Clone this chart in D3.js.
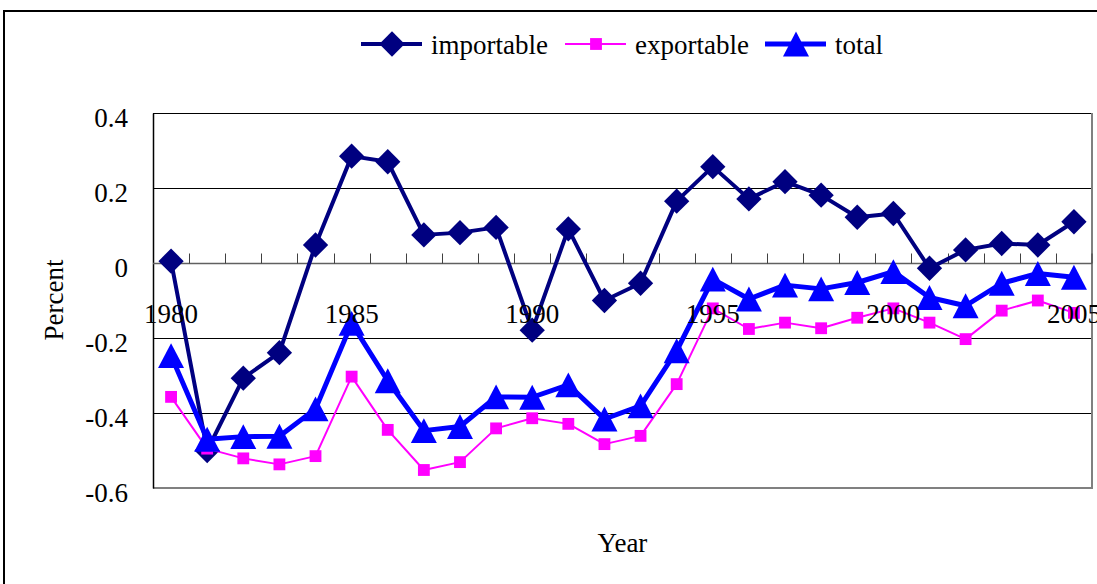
<!DOCTYPE html>
<html>
<head>
<meta charset="utf-8">
<script src="https://cdn.jsdelivr.net/npm/d3@7"></script>
<style>
  html, body { margin: 0; padding: 0; background: #fff; }
  svg { display: block; font-family: "Liberation Serif", "Times New Roman", serif; }
</style>
</head>
<body>
<svg id="chart" width="1097" height="584"></svg>
<script>
// Years on the category axis
const years = d3.range(1980, 2006);
// Years that carry a tick label
const labelYears = [1980, 1985, 1990, 1995, 2000, 2005];
// Value-axis ticks
const yTicks = [0.4, 0.2, 0, -0.2, -0.4, -0.6];

// Series values (percent), 1980-2005
const importable = [0.005, -0.50, -0.307, -0.239, 0.048, 0.285, 0.270, 0.075, 0.081, 0.095,
                    -0.179, 0.091, -0.100, -0.054, 0.165, 0.257, 0.171, 0.217, 0.181, 0.122,
                    0.132, -0.014, 0.035, 0.052, 0.048, 0.110];
const exportable = [-0.357, -0.495, -0.521, -0.537, -0.515, -0.303, -0.445, -0.552, -0.531, -0.441,
                    -0.414, -0.429, -0.483, -0.461, -0.323, -0.121, -0.176, -0.159, -0.174, -0.146,
                    -0.121, -0.159, -0.203, -0.127, -0.100, -0.133];
const total      = [-0.247, -0.470, -0.463, -0.462, -0.389, -0.161, -0.314, -0.447, -0.436, -0.357,
                    -0.358, -0.325, -0.416, -0.381, -0.234, -0.043, -0.096, -0.059, -0.069, -0.052,
                    -0.023, -0.092, -0.114, -0.054, -0.028, -0.038];

const seriesNames = ["importable", "exportable", "total"];

const svg = d3.select("#chart");
const FONT = 27;

const plot = { left: 153, right: 1092, top: 113, bottom: 488 };

const x = d3.scaleBand().domain(years).range([plot.left, plot.right]).padding(0);
const y = d3.scaleLinear().domain([-0.6, 0.4]).range([plot.bottom, plot.top]);
const cx = d => x(d) + x.bandwidth() / 2;

// Triangle whose bounding box is centred on the point
const triangleType = {
  draw(ctx, size) {
    const w = Math.sqrt(size), h = w * 0.96;
    ctx.moveTo(0, -h / 2);
    ctx.lineTo(w / 2, h / 2);
    ctx.lineTo(-w / 2, h / 2);
    ctx.closePath();
  }
};

const styles = {
  importable: { color: "#000080", width: 4, type: d3.symbolSquare, size: 320, rotate: 45 },
  exportable: { color: "#FF00FF", width: 2, type: d3.symbolSquare, size: 140, rotate: 0 },
  total:      { color: "#0000FF", width: 5, type: triangleType, size: 676, rotate: 0 }
};

const data = { importable, exportable, total };

// Outer chart frame
svg.append("rect")
  .attr("x", 4).attr("y", 11)
  .attr("width", 1110).attr("height", 600)
  .attr("fill", "none").attr("stroke", "#000").attr("stroke-width", 2);

// Gridlines
svg.append("g")
  .selectAll("line")
  .data(yTicks.filter(t => t !== 0 && t !== -0.6))
  .join("line")
  .attr("x1", plot.left).attr("x2", plot.right)
  .attr("y1", d => Math.round(y(d)) + 0.5).attr("y2", d => Math.round(y(d)) + 0.5)
  .attr("stroke", "#000").attr("stroke-width", 1);

// Plot area frame (right and bottom)
svg.append("path")
  .attr("d", `M${plot.right},${plot.top}V${plot.bottom}H${plot.left}`)
  .attr("fill", "none").attr("stroke", "#808080").attr("stroke-width", 2);

// Value axis
const yAxis = d3.axisLeft(y).tickValues(yTicks).tickSize(0).tickPadding(25)
  .tickFormat(d => d === 0 ? "0" : String(d));
const gy = svg.append("g").attr("transform", `translate(${plot.left},0)`).call(yAxis);
gy.select(".domain").attr("stroke", "#000").attr("stroke-width", 1.5);
gy.selectAll("text")
  .attr("font-family", "Liberation Serif").attr("font-size", FONT)
  .attr("fill", "#000").attr("dy", null).attr("y", 13);

// Category axis line at zero with upward ticks between categories
const zeroY = Math.round(y(0)) + 0.5;
svg.append("line")
  .attr("x1", plot.left).attr("x2", plot.right)
  .attr("y1", zeroY).attr("y2", zeroY)
  .attr("stroke", "#606060").attr("stroke-width", 1.5);
svg.append("g")
  .selectAll("line")
  .data(years.slice(1).concat([null]))
  .join("line")
  .attr("x1", d => d === null ? plot.right : Math.round(x(d)) + 0.5)
  .attr("x2", d => d === null ? plot.right : Math.round(x(d)) + 0.5)
  .attr("y1", zeroY).attr("y2", zeroY - 10)
  .attr("stroke", "#404040").attr("stroke-width", 1);

// Series lines and markers
seriesNames.forEach(name => {
  const s = styles[name];
  const vals = data[name];
  const g = svg.append("g");
  const line = d3.line().x((d, i) => cx(years[i])).y(d => y(d));
  g.append("path")
    .datum(vals)
    .attr("d", line)
    .attr("fill", "none")
    .attr("stroke", s.color)
    .attr("stroke-width", s.width)
    .attr("stroke-linejoin", "round");
  g.selectAll("path.m")
    .data(vals)
    .join("path")
    .attr("class", "m")
    .attr("d", d3.symbol().type(s.type).size(s.size))
    .attr("transform", (d, i) => `translate(${cx(years[i])},${y(d)}) rotate(${s.rotate})`)
    .attr("fill", s.color);
});

// Category labels
svg.append("g")
  .selectAll("text")
  .data(labelYears)
  .join("text")
  .attr("x", d => cx(d))
  .attr("y", 323)
  .attr("text-anchor", "middle")
  .attr("font-size", FONT)
  .text(d => d);

// Axis titles
svg.append("text")
  .attr("transform", "translate(63,300) rotate(-90)")
  .attr("text-anchor", "middle")
  .attr("font-size", FONT)
  .text("Percent");
svg.append("text")
  .attr("x", (plot.left + plot.right) / 2)
  .attr("y", 552)
  .attr("text-anchor", "middle")
  .attr("font-size", FONT)
  .text("Year");

// Legend
const legendX = { importable: 361, exportable: 565, total: 765 };
const legendY = 44;
seriesNames.forEach(name => {
  const s = styles[name];
  const g = svg.append("g").attr("transform", `translate(${legendX[name]},${legendY})`);
  g.append("line")
    .attr("x1", 0).attr("x2", 61).attr("y1", 0).attr("y2", 0)
    .attr("stroke", s.color).attr("stroke-width", s.width);
  g.append("path")
    .attr("d", d3.symbol().type(s.type).size(s.size)())
    .attr("transform", `translate(31,0) rotate(${s.rotate})`)
    .attr("fill", s.color);
  g.append("text")
    .attr("x", 70).attr("y", 10)
    .attr("font-size", FONT)
    .text(name);
});
</script>
</body>
</html>
